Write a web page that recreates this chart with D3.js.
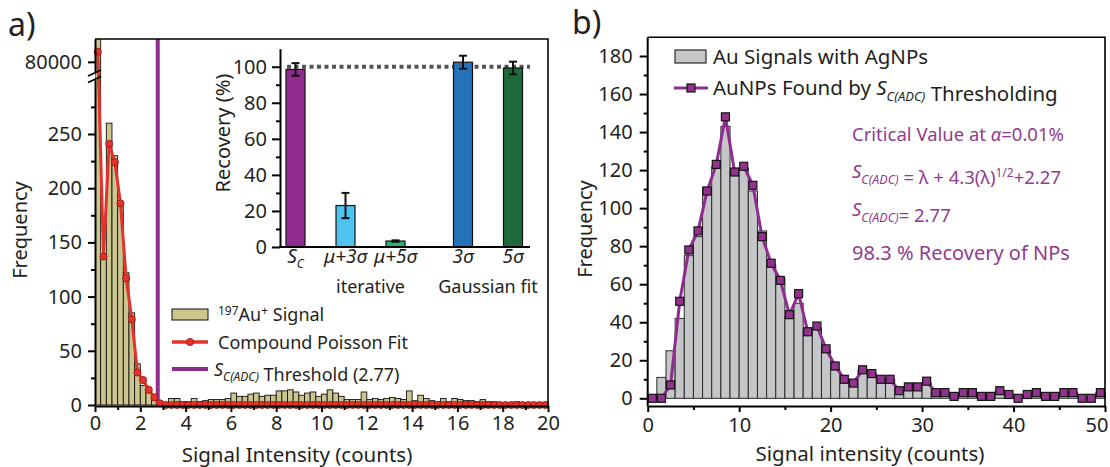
<!DOCTYPE html>
<html>
<head>
<meta charset="utf-8">
<script src="https://d3js.org/d3.v7.min.js"></script>
<style>
  body { margin: 0; background: #fff; }
  svg { font-family: "Noto Sans", sans-serif; }
  .axis .domain { stroke: #000; stroke-width: 2px; }
  .axis .tick line { stroke: #000; stroke-width: 2px; }
  .axis .tick text { fill: #231f20; }
</style>
</head>
<body>
<svg width="1110" height="467"></svg>
<script>
// panel a: histogram of 197Au+ signal, bins of 0.25 counts from 0 to 20
const binA = 0.25;
const auSignal = [
  82000, 135, 260, 230, 186, 122, 85, 38, 18, 12, 7, 2,
  2, 6, 6, 3, 3, 6, 3, 4, 5, 5, 5, 6,
  11, 8, 8, 10, 11, 8, 9, 9, 13, 13, 14, 12,
  9, 11, 12, 8, 10, 14, 11, 8, 5, 5, 5, 12,
  5, 6, 5, 6, 7, 6, 5, 13, 4, 9, 6, 4,
  3, 6, 3, 6, 5, 4, 4, 3, 5, 3, 3, 2,
  2, 2, 3, 2, 2, 2, 2, 1
];
const poissonFit = [
  80800, 137, 241, 224, 186, 117, 79, 30, 23, 14, 7, 1.5,
  0, 0, 0, 0, 0, 0, 0, 0, 0, 0, 0, 0,
  0, 0, 0, 0, 0, 0, 0, 0, 0, 0, 0, 0,
  0, 0, 0, 0, 0, 0, 0, 0, 0, 0, 0, 0,
  0, 0, 0, 0, 0, 0, 0, 0, 0, 0, 0, 0,
  0, 0, 0, 0, 0, 0, 0, 0, 0, 0, 0, 0,
  0, 0, 0, 0, 0, 0, 0, 0
];
const threshold = 2.77;
const xTicksA = [0, 2, 4, 6, 8, 10, 12, 14, 16, 18, 20];
const yTicksA = [0, 50, 100, 150, 200, 250];

// inset: recovery by method
const methods = ["Sc", "mu3", "mu5", "g3", "g5"];
const methodGroup = [0, 1, 1, 2, 2];
const recovery = [98.5, 23, 3.3, 102.5, 99.3];
const recoveryErr = [3.5, 7, 0.4, 3.6, 3.5];
const methodColors = ["#922b8f", "#4fc3ef", "#2cb570", "#2672b9", "#1e6a3c"];
const groupNames = ["", "iterative", "Gaussian fit"];
const yTicksIn = [0, 20, 40, 60, 80, 100];

// panel b: Au signals with AgNPs, bins of 1 count from 0 to 50
const binB = 1;
const auWithAg = [
  0, 11, 25, 42, 75, 85, 111, 122, 143, 120,
  121, 109, 88, 70, 63, 43, 50, 36, 37, 25,
  15, 8, 9, 15, 13, 10, 10, 5, 6, 6,
  8, 3, 3, 1, 3, 3, 1, 1, 4, 2,
  0, 2, 3, 1, 1, 3, 3, 0, 0, 3
];
const npsFound = [
  0, 0, 7, 51, 78, 88, 109, 123, 148, 119,
  122, 112, 85, 71, 62, 44, 55, 35, 38, 26,
  17, 10, 8, 15, 13, 10, 10, 4, 6, 6,
  9, 3, 3, 1, 3, 3, 1, 1, 4, 2,
  0, 2, 3, 1, 1, 3, 3, 0, 0, 3
];
const xTicksB = [0, 10, 20, 30, 40, 50];
const yTicksB = [0, 20, 40, 60, 80, 100, 120, 140, 160, 180];

const ink = "#231f20";
const khaki = "#cbc68e";
const redFit = "#e5322b";
const purple = "#8f2c8f";
const textPurple = "#923a91";

const svg = d3.select("svg");
const defs = svg.append("defs");

// helper: italic S with subscript C(ADC)
function scadc(t, subSize) {
  t.append("tspan").attr("font-style", "italic").text("S");
  t.append("tspan").attr("font-style", "italic").attr("font-size", subSize)
    .attr("dy", subSize * 0.45).text("C(ADC)");
  t.append("tspan").attr("dy", -subSize * 0.45).text("");
}

// ---------------- panel a ----------------
const gA = svg.append("g");
const xA = d3.scaleLinear().domain([0, 20]).range([95, 548]);
const yA = d3.scaleLinear().domain([0, 300]).range([405, 79.8]);
const yAHigh = d3.scaleLinear().domain([79200, 81800]).range([72, 39]);
const yAny = v => v > 1000 ? yAHigh(v) : yA(v);

defs.append("clipPath").attr("id", "clipA")
  .append("rect").attr("x", 95).attr("y", 39).attr("width", 453).attr("height", 367);

gA.append("g").attr("clip-path", "url(#clipA)")
  .selectAll("rect").data(auSignal).join("rect")
    .attr("x", (d, i) => xA(i * binA))
    .attr("width", xA(binA) - xA(0))
    .attr("y", d => yAny(d))
    .attr("height", d => yA(0) - yAny(d))
    .attr("fill", khaki)
    .attr("stroke", "#111")
    .attr("stroke-width", 0.9);

gA.append("line")
  .attr("x1", xA(threshold)).attr("x2", xA(threshold))
  .attr("y1", 39).attr("y2", 406)
  .attr("stroke", purple).attr("stroke-width", 4);

const fitPts = poissonFit.map((d, i) => [xA((i + 0.5) * binA), yAny(d)]);
gA.append("path")
  .attr("d", d3.line()(fitPts))
  .attr("fill", "none").attr("stroke", redFit).attr("stroke-width", 3);
gA.selectAll("circle.fit").data(fitPts).join("circle")
  .attr("class", "fit")
  .attr("cx", d => d[0]).attr("cy", d => d[1]).attr("r", 3.6)
  .attr("fill", redFit).attr("stroke", "#8a1a15").attr("stroke-width", 0.8);

// axes
function styleAxis(g, size) {
  g.attr("font-family", null).attr("font-size", size);
}
gA.append("g").attr("class", "axis").attr("transform", "translate(0,406)")
  .call(d3.axisBottom(xA).tickValues(xTicksA).tickSize(6).tickSizeOuter(0).tickPadding(4))
  .call(styleAxis, 20);
gA.append("g").attr("class", "axis").attr("transform", "translate(0,406)")
  .call(d3.axisBottom(xA).tickValues(d3.range(1, 20, 2)).tickSize(4).tickSizeOuter(0).tickFormat(""))
  .call(g => g.select(".domain").remove());
gA.append("g").attr("class", "axis").attr("transform", "translate(95,0)")
  .call(d3.axisLeft(yA).tickValues(yTicksA).tickSize(7).tickSizeOuter(0).tickPadding(6))
  .call(styleAxis, 20);
gA.append("g").attr("class", "axis").attr("transform", "translate(95,0)")
  .call(d3.axisLeft(yA).tickValues([25, 75, 125, 175, 225, 275]).tickSize(4).tickSizeOuter(0).tickFormat(""))
  .call(g => g.select(".domain").remove());
gA.append("g").attr("class", "axis").attr("transform", "translate(95,0)")
  .call(d3.axisLeft(yAHigh).tickValues([80000]).tickSize(7).tickSizeOuter(0).tickPadding(6)
    .tickFormat(d3.format("d")))
  .call(styleAxis, 20);

// axis break marks
gA.append("path")
  .attr("d", "M88,76L101,70M88,82.5L101,76.5")
  .attr("stroke", "#000").attr("stroke-width", 1.8).attr("fill", "none");

// frame
gA.append("path")
  .attr("d", "M95,39H548V406")
  .attr("fill", "none").attr("stroke", "#000").attr("stroke-width", 1.6);

gA.append("text")
  .attr("transform", "translate(27,230) rotate(-90)")
  .attr("text-anchor", "middle").attr("font-size", 20).attr("fill", ink)
  .text("Frequency");
gA.append("text")
  .attr("x", 297).attr("y", 462)
  .attr("text-anchor", "middle").attr("font-size", 20.5).attr("fill", ink)
  .text("Signal Intensity (counts)");
svg.append("text").attr("x", 8).attr("y", 36)
  .attr("font-size", 32).attr("fill", ink).text("a)");

// legend a
const legA = gA.append("g").attr("font-size", 18).attr("fill", ink);
legA.append("rect").attr("x", 172).attr("y", 309).attr("width", 36).attr("height", 11)
  .attr("fill", khaki).attr("stroke", "#111").attr("stroke-width", 1);
const l1 = legA.append("text").attr("x", 218).attr("y", 321);
l1.append("tspan").attr("font-size", 12).attr("dy", -6).text("197");
l1.append("tspan").attr("dy", 6).text("Au");
l1.append("tspan").attr("font-size", 12).attr("dy", -6).text("+");
l1.append("tspan").attr("dy", 6).text(" Signal");
legA.append("line").attr("x1", 172).attr("x2", 208).attr("y1", 342).attr("y2", 342)
  .attr("stroke", redFit).attr("stroke-width", 3.5);
legA.append("circle").attr("cx", 190).attr("cy", 342).attr("r", 3.6)
  .attr("fill", redFit).attr("stroke", "#8a1a15").attr("stroke-width", 0.8);
legA.append("text").attr("x", 218).attr("y", 349).text("Compound Poisson Fit");
legA.append("line").attr("x1", 172).attr("x2", 208).attr("y1", 369).attr("y2", 369)
  .attr("stroke", purple).attr("stroke-width", 4);
const l3 = legA.append("text").attr("x", 214).attr("y", 376);
scadc(l3, 12);
l3.append("tspan").text(" Threshold (2.77)");

// ---------------- inset ----------------
const gIn = svg.append("g");
const slot = i => i + (methodGroup[i] === 2 ? 0.35 : 0);
const xIn = d3.scaleLinear().domain([0, 4.35]).range([295.5, 513]);
const yIn = d3.scaleLinear().domain([0, 110]).range([247, 48.7]);
const barW = 19;

gIn.append("line")
  .attr("x1", 287).attr("x2", 530).attr("y1", yIn(100)).attr("y2", yIn(100))
  .attr("stroke", "#555").attr("stroke-width", 4).attr("stroke-dasharray", "4,3.5");

gIn.selectAll("rect").data(recovery).join("rect")
  .attr("x", (d, i) => xIn(slot(i)) - barW / 2)
  .attr("width", barW)
  .attr("y", d => yIn(d))
  .attr("height", d => yIn(0) - yIn(d))
  .attr("fill", (d, i) => methodColors[i])
  .attr("stroke", "#111").attr("stroke-width", 1.2);

const errG = gIn.selectAll("g.err").data(recovery).join("g").attr("class", "err")
  .attr("stroke", "#111").attr("stroke-width", 2);
errG.append("line")
  .attr("x1", (d, i) => xIn(slot(i))).attr("x2", (d, i) => xIn(slot(i)))
  .attr("y1", (d, i) => yIn(d - recoveryErr[i])).attr("y2", (d, i) => yIn(d + recoveryErr[i]));
errG.append("line")
  .attr("x1", (d, i) => xIn(slot(i)) - 4).attr("x2", (d, i) => xIn(slot(i)) + 4)
  .attr("y1", (d, i) => yIn(d + recoveryErr[i])).attr("y2", (d, i) => yIn(d + recoveryErr[i]));
errG.append("line")
  .attr("x1", (d, i) => xIn(slot(i)) - 4).attr("x2", (d, i) => xIn(slot(i)) + 4)
  .attr("y1", (d, i) => yIn(d - recoveryErr[i])).attr("y2", (d, i) => yIn(d - recoveryErr[i]));

gIn.append("g").attr("class", "axis").attr("transform", "translate(280,0)")
  .call(d3.axisLeft(yIn).tickValues(yTicksIn).tickSize(8).tickSizeOuter(0).tickPadding(5))
  .call(styleAxis, 20);
gIn.append("g").attr("class", "axis").attr("transform", "translate(280,0)")
  .call(d3.axisLeft(yIn).tickValues([10, 30, 50, 70, 90]).tickSize(4).tickSizeOuter(0).tickFormat(""))
  .call(g => g.select(".domain").remove());
gIn.append("line").attr("x1", 279).attr("x2", 530).attr("y1", yIn(0)).attr("y2", yIn(0))
  .attr("stroke", "#000").attr("stroke-width", 2);

gIn.append("text")
  .attr("transform", "translate(230,133) rotate(-90)")
  .attr("text-anchor", "middle").attr("font-size", 20).attr("fill", ink)
  .text("Recovery (%)");

const methodLabel = [
  t => { t.append("tspan").text("S"); t.append("tspan").attr("font-size", 12).attr("dy", 5).text("C"); },
  t => { t.append("tspan").text("\u03bc+3\u03c3"); },
  t => { t.append("tspan").text("\u03bc+5\u03c3"); },
  t => { t.append("tspan").text("3\u03c3"); },
  t => { t.append("tspan").text("5\u03c3"); }
];
methods.forEach((m, i) => {
  const t = gIn.append("text")
    .attr("x", xIn(slot(i))).attr("y", 263)
    .attr("text-anchor", "middle").attr("font-size", 19).attr("font-style", "italic").attr("fill", ink);
  methodLabel[i](t);
});
groupNames.forEach((name, gi) => {
  if (!name) return;
  const idx = d3.range(methods.length).filter(i => methodGroup[i] === gi);
  gIn.append("text")
    .attr("x", d3.mean(idx, i => xIn(slot(i)))).attr("y", 293)
    .attr("text-anchor", "middle").attr("font-size", 18).attr("fill", ink)
    .text(name);
});

// ---------------- panel b ----------------
const gB = svg.append("g");
const xB = d3.scaleLinear().domain([0, 50]).range([647.7, 1105]);
const yB = d3.scaleLinear().domain([0, 180]).range([398.3, 56]);

gB.selectAll("rect.bar").data(auWithAg).join("rect")
  .attr("class", "bar")
  .attr("x", (d, i) => xB(i * binB))
  .attr("width", xB(binB) - xB(0))
  .attr("y", d => yB(d))
  .attr("height", d => yB(0) - yB(d))
  .attr("fill", "#c5c6c8")
  .attr("stroke", "#2a2a2a").attr("stroke-width", 1);

const npPts = npsFound.map((d, i) => [xB((i + 0.5) * binB), yB(d)]);
gB.append("path")
  .attr("d", d3.line()(npPts))
  .attr("fill", "none").attr("stroke", purple).attr("stroke-width", 3);
gB.selectAll("rect.np").data(npPts).join("rect")
  .attr("class", "np")
  .attr("x", d => d[0] - 4).attr("y", d => d[1] - 4)
  .attr("width", 8).attr("height", 8)
  .attr("fill", "#93318f").attr("stroke", "#151515").attr("stroke-width", 1.2);

gB.append("g").attr("class", "axis").attr("transform", "translate(0,406)")
  .call(d3.axisBottom(xB).tickValues(xTicksB).tickSize(6).tickSizeOuter(0).tickPadding(6))
  .call(styleAxis, 20)
  .call(g => g.selectAll(".tick text").filter(d => d === 50)
    .attr("text-anchor", "end").attr("x", 3));
gB.append("g").attr("class", "axis").attr("transform", "translate(0,406)")
  .call(d3.axisBottom(xB).tickValues([5, 15, 25, 35, 45]).tickSize(4).tickSizeOuter(0).tickFormat(""))
  .call(g => g.select(".domain").remove());
gB.append("g").attr("class", "axis").attr("transform", "translate(647.7,0)")
  .call(d3.axisLeft(yB).tickValues(yTicksB).tickSize(8).tickSizeOuter(0).tickPadding(7))
  .call(styleAxis, 20)
  .call(g => g.select(".domain").attr("d", "M0,406V37.3"));
gB.append("g").attr("class", "axis").attr("transform", "translate(647.7,0)")
  .call(d3.axisLeft(yB).tickValues(d3.range(10, 190, 20)).tickSize(4).tickSizeOuter(0).tickFormat(""))
  .call(g => g.select(".domain").remove());
gB.append("path")
  .attr("d", "M647.7,37.3H1105V406")
  .attr("fill", "none").attr("stroke", "#000").attr("stroke-width", 1.6);

gB.append("text")
  .attr("transform", "translate(592,229) rotate(-90)")
  .attr("text-anchor", "middle").attr("font-size", 20).attr("fill", ink)
  .text("Frequency");
gB.append("text")
  .attr("x", 870).attr("y", 461)
  .attr("text-anchor", "middle").attr("font-size", 20.5).attr("fill", ink)
  .text("Signal intensity (counts)");
svg.append("text").attr("x", 572).attr("y", 34)
  .attr("font-size", 32).attr("fill", ink).text("b)");

// legend b
const legB = gB.append("g").attr("font-size", 20.5).attr("fill", ink);
legB.append("rect").attr("x", 675).attr("y", 50).attr("width", 31).attr("height", 13)
  .attr("fill", "#c5c6c8").attr("stroke", "#2a2a2a").attr("stroke-width", 1.2);
legB.append("text").attr("x", 713).attr("y", 64).text("Au Signals with AgNPs");
legB.append("line").attr("x1", 674).attr("x2", 708).attr("y1", 88).attr("y2", 88)
  .attr("stroke", purple).attr("stroke-width", 3);
legB.append("rect").attr("x", 687).attr("y", 84).attr("width", 8).attr("height", 8)
  .attr("fill", "#93318f").attr("stroke", "#151515").attr("stroke-width", 1.2);
const lb2 = legB.append("text").attr("x", 713).attr("y", 95);
lb2.append("tspan").text("AuNPs Found by ");
scadc(lb2, 13);
lb2.append("tspan").text(" Thresholding");

// annotation
const ann = gB.append("g").attr("fill", textPurple).attr("font-size", 18.5);
const a1 = ann.append("text").attr("x", 852).attr("y", 141);
a1.append("tspan").text("Critical Value at ");
a1.append("tspan").attr("font-style", "italic").text("\u03b1");
a1.append("tspan").text("=0.01%");
const a2 = ann.append("text").attr("x", 852).attr("y", 178);
scadc(a2, 12.5);
a2.append("tspan").text("  =  \u03bb + 4.3(\u03bb)");
a2.append("tspan").attr("font-size", 12).attr("dy", -7).text("1/2");
a2.append("tspan").attr("dy", 7).text("+2.27");
const a3 = ann.append("text").attr("x", 852).attr("y", 216);
scadc(a3, 12.5);
a3.append("tspan").text("= 2.77");
ann.append("text").attr("x", 852).attr("y", 260).attr("font-size", 20)
  .text("98.3 % Recovery of NPs");
</script>
</body>
</html>
